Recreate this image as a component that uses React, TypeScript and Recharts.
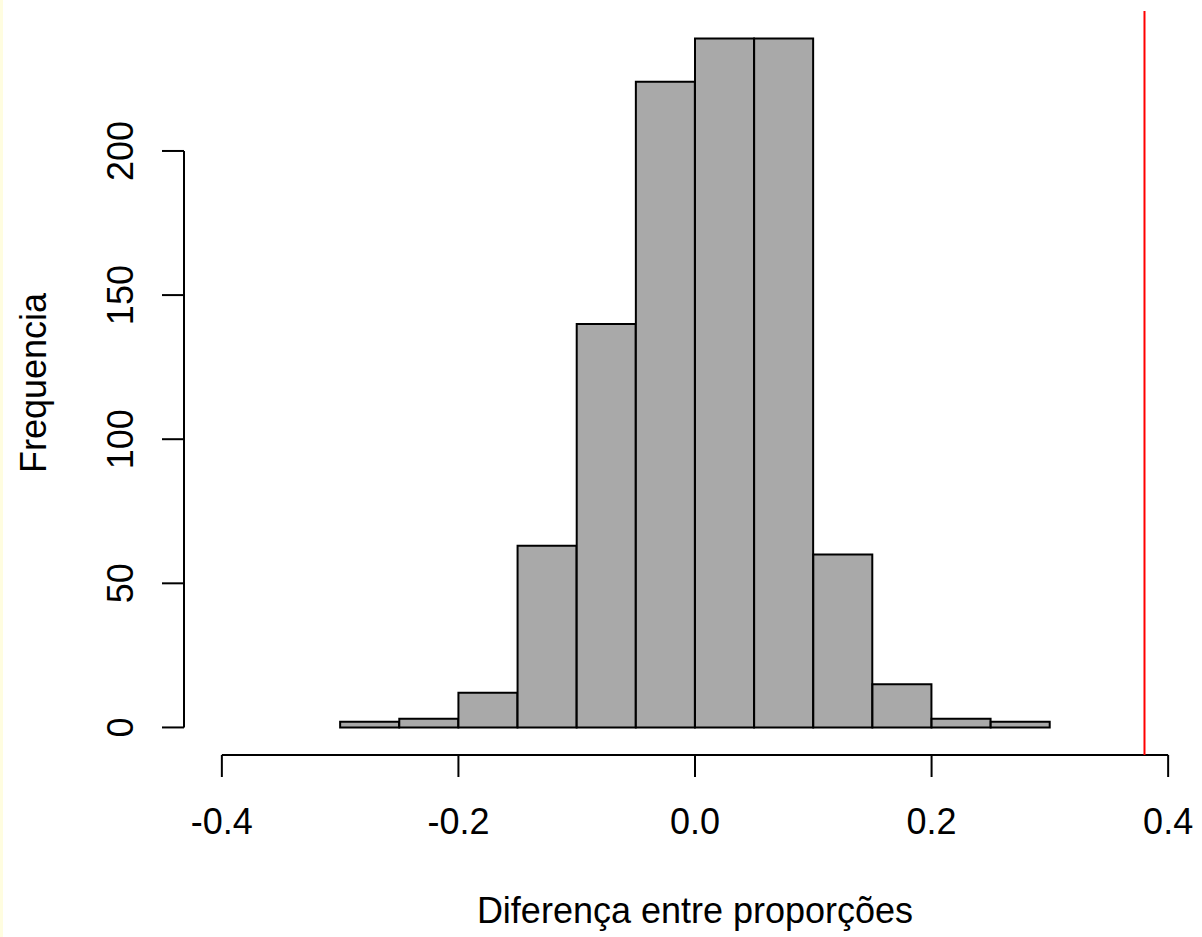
import { BarChart, Bar, XAxis, YAxis, ReferenceLine, Label } from 'recharts'

// histogram breaks and counts (1000 simulated differences)
const breaks = [-0.3, -0.25, -0.2, -0.15, -0.1, -0.05, 0, 0.05, 0.1, 0.15, 0.2, 0.25, 0.3];
const counts = [2, 3, 12, 63, 140, 224, 239, 239, 60, 15, 3, 2];
const xTicks = [-0.4, -0.2, 0, 0.2, 0.4];
const yTicks = [0, 50, 100, 150, 200];
const observedDiff = 0.38;

const xTitle = 'Diferença entre proporções';
const yTitle = 'Frequencia';

const data = counts.map((c, i) => ({ mid: (breaks[i] + breaks[i + 1]) / 2, count: c }));

// R-style extended ranges (4% on each side)
const xLim = [-0.4, 0.4];
const xPad = (xLim[1] - xLim[0]) * 0.04;
const xDomain = [xLim[0] - xPad, xLim[1] + xPad];
const yMax = Math.max(...counts);
const yDomain = [-yMax * 0.04, yMax * 1.04];

const FONT = '"Liberation Sans", Arial, sans-serif';

const YTick = ({ x, y, payload }: any) => (
  <text x={x} y={y} transform={`rotate(-90, ${x}, ${y})`} textAnchor="middle" fontSize={36} fill="#000" fontFamily={FONT}>
    {payload.value}
  </text>
);

const YTitle = ({ viewBox }: any) => {
  const cx = 46;
  const cy = viewBox.y + viewBox.height / 2;
  return (
    <text x={cx} y={cy} transform={`rotate(-90, ${cx}, ${cy})`} textAnchor="middle" fontSize={36} fill="#000" fontFamily={FONT}>
      {yTitle}
    </text>
  );
};

export default function App() {
  return (
    <div style={{ position: 'absolute', left: 0, top: 0, width: 1202, height: 937, overflow: 'hidden', background: '#fff', fontFamily: FONT }}>
      <div style={{ position: 'absolute', left: 0, top: 0, width: 3, height: 937, background: '#fffde0' }} />
      <BarChart width={1210} height={937} data={data} margin={{ top: 11, right: 4, left: 0, bottom: 0 }} barCategoryGap={0} barGap={0}>
        <XAxis
          type="number"
          dataKey="mid"
          domain={xDomain}
          allowDataOverflow
          ticks={xTicks}
          interval={0}
          tickFormatter={(v: number) => v.toFixed(1)}
          axisLine={false}
          tickLine={{ stroke: '#000', strokeWidth: 2 }}
          tickSize={22}
          tickMargin={31}
          height={182}
          tick={{ fill: '#000', fontSize: 36, fontFamily: FONT }}
        >
          <Label value={xTitle} position="insideBottom" offset={14} fontSize={36} fill="#000" fontFamily={FONT} />
        </XAxis>
        <YAxis
          type="number"
          domain={yDomain}
          allowDataOverflow
          ticks={yTicks}
          interval={0}
          width={184}
          axisLine={false}
          tickLine={{ stroke: '#000', strokeWidth: 2 }}
          tickSize={22}
          tickMargin={29}
          tick={<YTick />}
        >
          <Label content={<YTitle />} />
        </YAxis>
        <Bar dataKey="count" fill="#a9a9a9" stroke="#000" strokeWidth={2} isAnimationActive={false} />
        <ReferenceLine segment={[{ x: xLim[0], y: yDomain[0] }, { x: xLim[1], y: yDomain[0] }]} stroke="#000" strokeWidth={2} ifOverflow="visible" />
        <ReferenceLine segment={[{ x: xDomain[0], y: 0 }, { x: xDomain[0], y: 200 }]} stroke="#000" strokeWidth={2} ifOverflow="visible" />
        <ReferenceLine x={observedDiff} stroke="#ff0000" strokeWidth={2} ifOverflow="visible" />
      </BarChart>
    </div>
  );
}
